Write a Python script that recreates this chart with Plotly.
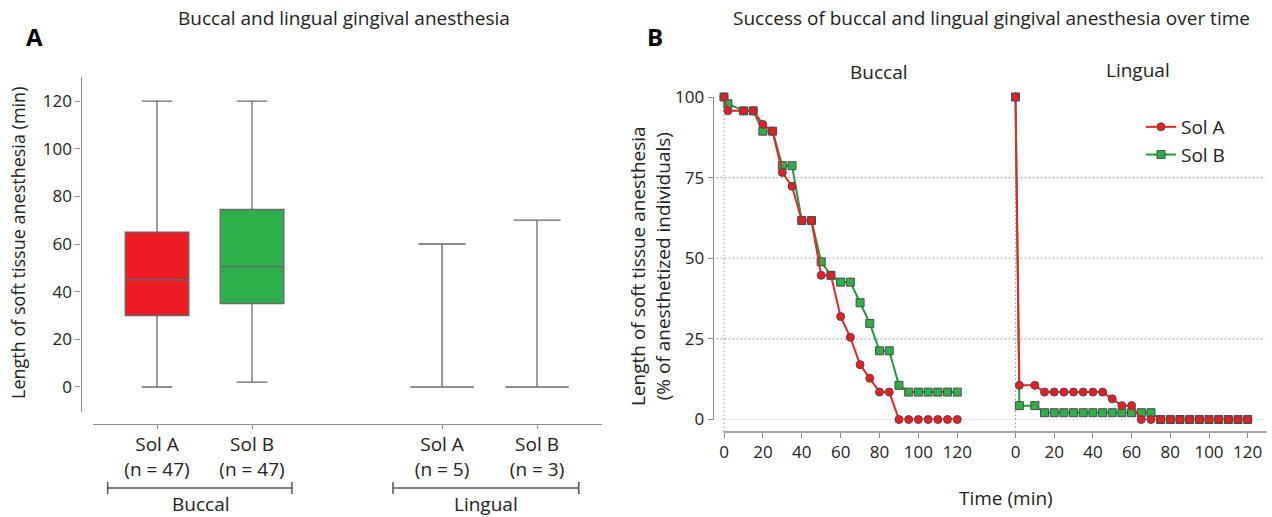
import plotly.graph_objects as go

W, H = 1272, 517
FONT = "Open Sans"
TXT = "#222222"
AX = "#8a8a8a"

# ---------------- Data: panel A (box plot summaries) ----------------
groups = ["Buccal", "Buccal", "Lingual", "Lingual"]
solutions = ["Sol A", "Sol B", "Sol A", "Sol B"]
n_values = [47, 47, 5, 3]
box_q1 = [30, 35, 0, 0]
box_median = [45, 50.5, 0, 0]
box_q3 = [65, 74.5, 0, 0]
box_lower = [0, 2, 0, 0]
box_upper = [120, 120, 60, 70]
y_ticks_a = [0, 20, 40, 60, 80, 100, 120]

# ---------------- Data: panel B (success over time, %) ----------------
time_min = [0, 2, 10, 15, 20, 25, 30, 35, 40, 45, 50, 55, 60, 65, 70, 75, 80, 85, 90, 95, 100, 105, 110, 115, 120]
buccal_sol_a = [100, 95.7, 95.7, 95.7, 91.5, 89.4, 76.6, 72.3, 61.7, 61.7, 44.7, 44.7, 31.9, 25.5, 17.0, 12.8,
                8.5, 8.5, 0, 0, 0, 0, 0, 0, 0]
buccal_sol_b = [100, 97.9, 95.7, 95.7, 89.4, 89.4, 78.7, 78.7, 61.7, 61.7, 48.9, 44.7, 42.6, 42.6, 36.2, 29.8,
                21.3, 21.3, 10.6, 8.5, 8.5, 8.5, 8.5, 8.5, 8.5]
lingual_sol_a = [100, 10.6, 10.6, 8.5, 8.5, 8.5, 8.5, 8.5, 8.5, 8.5, 6.4, 4.3, 4.3, 0, 0, 0, 0, 0, 0, 0, 0, 0,
                 0, 0, 0]
lingual_sol_b = [100, 4.3, 4.3, 2.1, 2.1, 2.1, 2.1, 2.1, 2.1, 2.1, 2.1, 2.1, 2.1, 2.1, 2.1, 0, 0, 0, 0, 0, 0, 0,
                 0, 0, 0]
time_ticks = [0, 20, 40, 60, 80, 100, 120]
pct_ticks = [0, 25, 50, 75, 100]

RED_FILL = "#ED1C24"
GREEN_FILL = "#2DB04B"
RED_LINE = "#E8242A"
GREEN_LINE = "#1F9A3C"
MARK_EDGE = "#4a4a4a"

def px(x):
    return x / W

def py(y):
    return 1 - y / H

cats = [f"{s}<br>(n = {n})" for s, n in zip(solutions, n_values)]
spacer = " "
cat_order = cats[:2] + [spacer] + cats[2:]
fills = [RED_FILL, GREEN_FILL, "rgba(0,0,0,0)", "rgba(0,0,0,0)"]
whisk = [0.48, 0.48, 0.74, 0.74]

fig = go.Figure()

for i in range(4):
    fig.add_trace(go.Box(
        x=[cats[i]], q1=[box_q1[i]], median=[box_median[i]], q3=[box_q3[i]],
        lowerfence=[box_lower[i]], upperfence=[box_upper[i]],
        fillcolor=fills[i], line=dict(color="#686868", width=1.3),
        width=0.67, whiskerwidth=whisk[i], boxpoints=False,
        xaxis="x", yaxis="y", showlegend=False, hoverinfo="skip"))

series = [
    ("Sol B", buccal_sol_b, lingual_sol_b, GREEN_LINE, GREEN_FILL, "square", 2),
    ("Sol A", buccal_sol_a, lingual_sol_a, RED_LINE, RED_FILL, "circle", 1),
]
for name, yb, yl, lc, mc, sym, rank in series:
    for xa, yv, show in (("x2", yb, True), ("x3", yl, False)):
        fig.add_trace(go.Scatter(
            x=time_min, y=yv, mode="lines+markers", name=name,
            line=dict(color=lc, width=2),
            marker=dict(symbol=sym, size=8, color=mc, line=dict(color=MARK_EDGE, width=1)),
            xaxis=xa, yaxis="y2", showlegend=show, legendrank=rank, cliponaxis=False))

numfont = dict(family=FONT, size=17, color=TXT)
catfont = dict(family=FONT, size=19, color=TXT)

split = 987
common = dict(automargin=False, showgrid=False, zeroline=False, tickcolor=AX)
fig.update_layout(
    template="none",
    width=W, height=H, margin=dict(l=0, r=0, t=0, b=0, pad=0, autoexpand=False),
    paper_bgcolor="white", plot_bgcolor="white",
    font=dict(family=FONT, size=17, color=TXT),
    boxmode="overlay",
    xaxis=dict(domain=[px(93), px(602)], anchor="free", position=py(423.5),
               type="category", categoryorder="array", categoryarray=cat_order,
               range=[-0.674, 4.684], tickmode="array", tickvals=cats, ticktext=cats,
               ticks="outside", ticklen=4, showline=True, linecolor=AX, linewidth=1.3,
               tickfont=catfont, **common),
    yaxis=dict(domain=[py(412), py(77)], anchor="free", position=px(80.5),
               range=[-10.5, 130.1], tickvals=y_ticks_a, ticks="outside", ticklen=5,
               showline=True, linecolor=AX, linewidth=1.3, tickfont=numfont, **common),
    yaxis2=dict(domain=[py(419.5), py(97)], anchor="free", position=px(712.7),
                range=[0, 100], tickvals=pct_ticks, ticks="outside", ticklen=5,
                showline=True, linecolor=AX, linewidth=1.3, tickfont=numfont, **common),
    xaxis2=dict(domain=[px(712.7), px(split)], anchor="free", position=py(432),
                range=[(712.7 - 724) / 1.944, (split - 724) / 1.944], tickvals=time_ticks,
                ticks="outside", ticklen=5, showline=False, tickfont=numfont, **common),
    xaxis3=dict(domain=[px(split), px(1267)], anchor="free", position=py(432),
                range=[(split - 1015.5) / 1.935, (1267 - 1015.5) / 1.935], tickvals=time_ticks,
                ticks="outside", ticklen=5, showline=False, tickfont=numfont, **common),
    legend=dict(x=px(1141), y=py(108), xanchor="left", yanchor="top",
                font=dict(family=FONT, size=19, color=TXT), bgcolor="rgba(0,0,0,0)",
                tracegroupgap=0, itemwidth=30),
)

DOT = dict(color="#9a9a9a", width=1.1, dash="1.5px,2.5px")
shapes = []
shapes.append(dict(type="line", xref="paper", yref="paper", x0=px(724), x1=px(1267),
                   y0=py(432), y1=py(432), line=dict(color=AX, width=1.3)))
for v in pct_ticks[:-1]:
    shapes.append(dict(type="line", xref="paper", yref="y2", x0=px(712.7), x1=px(1265),
                       y0=v, y1=v, line=DOT, layer="below"))
for xr in ("x2", "x3"):
    shapes.append(dict(type="line", xref=xr, yref="paper", x0=0, x1=0, y0=py(432), y1=py(97),
                       line=DOT, layer="below"))
for x0, x1 in ((107.7, 292), (393, 578.8)):
    shapes.append(dict(type="line", xref="paper", yref="paper", x0=px(x0), x1=px(x1),
                       y0=py(488), y1=py(488), line=dict(color="#555555", width=1.5)))
    for xx in (x0, x1):
        shapes.append(dict(type="line", xref="paper", yref="paper", x0=px(xx), x1=px(xx),
                           y0=py(482), y1=py(494), line=dict(color="#555555", width=1.5)))
fig.update_layout(shapes=shapes)

ann = []
def add_text(text, x, y, size=19, angle=0, bold=False):
    ann.append(dict(text=f"<b>{text}</b>" if bold else text, x=px(x), y=py(y), xref="paper", yref="paper",
                    showarrow=False, xanchor="center", yanchor="middle", textangle=angle,
                    font=dict(family=FONT, size=size, color="#000000" if bold else TXT)))

add_text("Buccal and lingual gingival anesthesia", 344, 18)
add_text("Success of buccal and lingual gingival anesthesia over time", 991, 18)
add_text("A", 34, 36, size=24, bold=True)
add_text("B", 655, 36, size=24, bold=True)
add_text("Length of soft tissue anesthesia (min)", 18, 243, size=18, angle=-90)
add_text("Length of soft tissue anesthesia<br>(% of anesthetized individuals)", 650, 266, angle=-90)
add_text(groups[0], 200.7, 504)
add_text(groups[2], 486, 504)
add_text("Buccal", 878, 72)
add_text("Lingual", 1138, 70)
add_text("Time (min)", 1006, 498)
fig.update_layout(annotations=ann)

fig.write_html("out.html", config={"displayModeBar": False},
               post_script="document.body.style.margin='0';document.body.style.overflow='hidden';")
